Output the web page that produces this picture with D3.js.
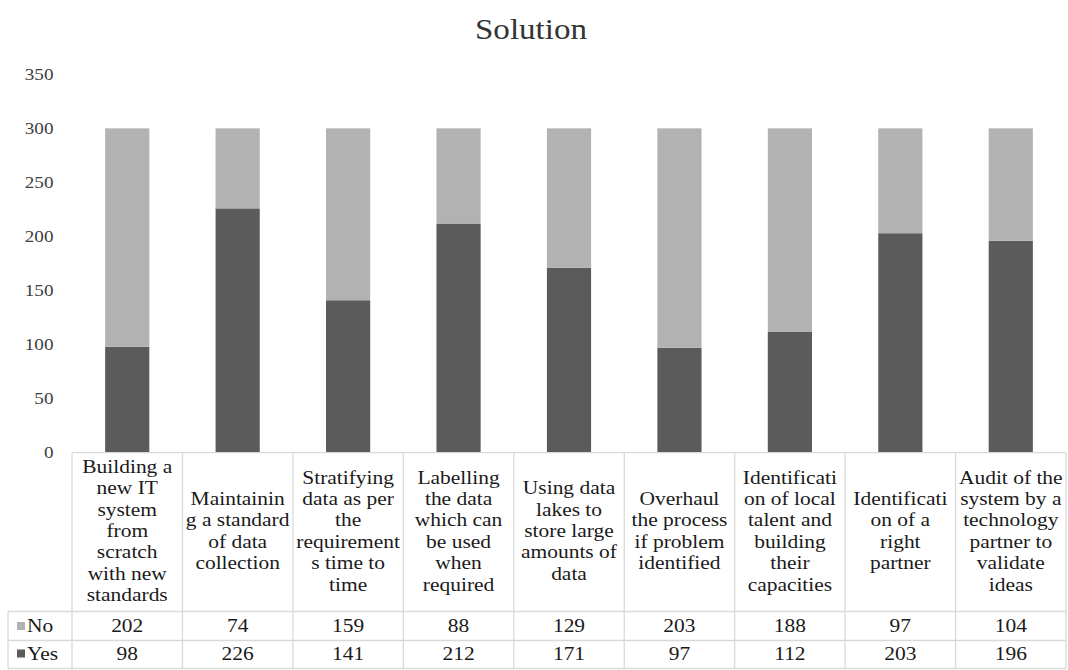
<!DOCTYPE html>
<html>
<head>
<meta charset="utf-8">
<script src="https://cdn.jsdelivr.net/npm/d3@7"></script>
<style>
  html, body { margin: 0; padding: 0; background: #fff; }
  svg { display: block; }
</style>
</head>
<body>
<svg id="chart" width="1068" height="670"></svg>
<script>
// Survey answers per proposed solution (stacked: Yes at the bottom, No on top)
const categories = [
  "Building a\nnew IT\nsystem\nfrom\nscratch\nwith new\nstandards",
  "Maintainin\ng a standard\nof data\ncollection",
  "Stratifying\ndata as per\nthe\nrequirement\ns time to\ntime",
  "Labelling\nthe data\nwhich can\nbe used\nwhen\nrequired",
  "Using data\nlakes to\nstore large\namounts of\ndata",
  "Overhaul\nthe process\nif problem\nidentified",
  "Identificati\non of local\ntalent and\nbuilding\ntheir\ncapacities",
  "Identificati\non of a\nright\npartner",
  "Audit of the\nsystem by a\ntechnology\npartner to\nvalidate\nideas"
];
const yesValues = [98, 226, 141, 212, 171, 97, 112, 203, 196];
const noValues  = [202, 74, 159, 88, 129, 203, 188, 97, 104];
const seriesNames = ["No", "Yes"];
const yTicks = [0, 50, 100, 150, 200, 250, 300, 350];

const colors = { Yes: "#5b5b5b", No: "#b2b2b2" };
const gridColor = "#d9d9d9";

// Pick the first installed serif face, and a horizontal stretch so that
// a header line of 18.5px type spans about 90px.
const ctx = document.createElement("canvas").getContext("2d");
function widthIn(font, s) { ctx.font = font; return ctx.measureText(s).width; }
const probe = "Building a mmmWWWiii 0123";
const candidates = ["Liberation Serif", "Tinos", "Times New Roman", "DejaVu Serif", "Noto Serif", "FreeSerif"];
let face = null;
for (const c of candidates) {
  const a = widthIn(`72px '${c}', monospace`, probe), b = widthIn("72px monospace", probe);
  const a2 = widthIn(`72px '${c}', sans-serif`, probe), b2 = widthIn("72px sans-serif", probe);
  if (Math.abs(a - b) > 0.5 || Math.abs(a2 - b2) > 0.5) { face = c; break; }
}
const FONT = face ? `'${face}', serif` : "serif";
const SX = 90 / widthIn(`18.5px ${FONT}`, "Building a");

const svg = d3.select("#chart");

const plotLeft = 72, plotRight = 1066;
const plotTop = 74.3, plotBottom = 452.7;
const tableLeft = 8;
const headerBottom = 611.5, rowMid = 640.5, tableBottom = 668.5;

const x = d3.scaleBand().domain(d3.range(categories.length)).range([plotLeft, plotRight]).paddingInner(0).paddingOuter(0);
const y = d3.scaleLinear().domain([0, 350]).range([plotBottom, plotTop]);
const barW = x.bandwidth() / 2.5;

// Title
svg.append("text")
  .attr("transform", `translate(531,39) scale(${SX},1)`)
  .attr("text-anchor", "middle")
  .attr("font-family", FONT)
  .attr("font-size", 28.5)
  .attr("fill", "#333")
  .text("Solution");

// Y axis labels only (no axis line, no gridlines)
const yAxis = d3.axisLeft(y).tickValues(yTicks).tickSize(0).tickPadding(16);
const gy = svg.append("g").attr("transform", `translate(${plotLeft},0)`).call(yAxis)
  .attr("font-family", FONT);
gy.select(".domain").remove();
gy.selectAll("text")
  .attr("font-size", 16.5)
  .attr("fill", "#404040")
  .attr("transform", `scale(${SX},1)`);

// Stacked bars
const rows = categories.map((c, i) => ({ i, Yes: yesValues[i], No: noValues[i] }));
const stack = d3.stack().keys(["Yes", "No"])(rows);
svg.append("g").selectAll("g")
  .data(stack)
  .join("g")
  .attr("fill", d => colors[d.key])
  .selectAll("rect")
  .data(d => d)
  .join("rect")
  .attr("x", d => x(d.data.i) + (x.bandwidth() - barW) / 2)
  .attr("width", barW)
  .attr("y", d => y(d[1]))
  .attr("height", d => y(d[0]) - y(d[1]));

// Data table grid
const grid = svg.append("g").attr("stroke", gridColor).attr("stroke-width", 1.3).attr("fill", "none");
grid.append("line").attr("x1", plotLeft).attr("x2", plotRight).attr("y1", plotBottom).attr("y2", plotBottom);
[headerBottom, rowMid, tableBottom].forEach(yy =>
  grid.append("line").attr("x1", tableLeft).attr("x2", plotRight).attr("y1", yy).attr("y2", yy));
grid.append("line").attr("x1", tableLeft).attr("x2", tableLeft).attr("y1", headerBottom).attr("y2", tableBottom);
d3.range(categories.length + 1).forEach(k => {
  const xx = k < categories.length ? x(k) : plotRight;
  grid.append("line").attr("x1", xx).attr("x2", xx).attr("y1", plotBottom).attr("y2", tableBottom);
});

// Category labels (header row)
const lineH = 21.4;
const headerMid = (plotBottom + headerBottom) / 2 + 5;
const hdr = svg.append("g").attr("font-family", FONT).attr("font-size", 18.5).attr("fill", "#1a1a1a").attr("text-anchor", "middle");
categories.forEach((c, i) => {
  const lines = c.split("\n");
  const cx = x(i) + x.bandwidth() / 2;
  const t = hdr.append("text").attr("transform", `translate(${cx},0) scale(${SX},1)`);
  lines.forEach((ln, j) => {
    t.append("tspan").attr("x", 0).attr("y", headerMid + (j - (lines.length - 1) / 2) * lineH).text(ln);
  });
});

// Value rows with legend keys
const valueRows = [
  { name: seriesNames[0], values: noValues, base: 632 },
  { name: seriesNames[1], values: yesValues, base: 659.5 }
];
valueRows.forEach(r => {
  svg.append("rect").attr("x", 17).attr("y", r.base - 10).attr("width", 8).attr("height", 8).attr("fill", colors[r.name]);
  svg.append("text")
    .attr("transform", `translate(27,${r.base}) scale(${SX},1)`)
    .attr("font-family", FONT)
    .attr("font-size", 18.5).attr("fill", "#1a1a1a")
    .text(r.name);
  r.values.forEach((v, i) => {
    svg.append("text")
      .attr("transform", `translate(${x(i) + x.bandwidth() / 2},${r.base}) scale(${SX},1)`)
      .attr("text-anchor", "middle")
      .attr("font-family", FONT)
      .attr("font-size", 18.5).attr("fill", "#1a1a1a")
      .text(v);
  });
});
</script>
</body>
</html>
